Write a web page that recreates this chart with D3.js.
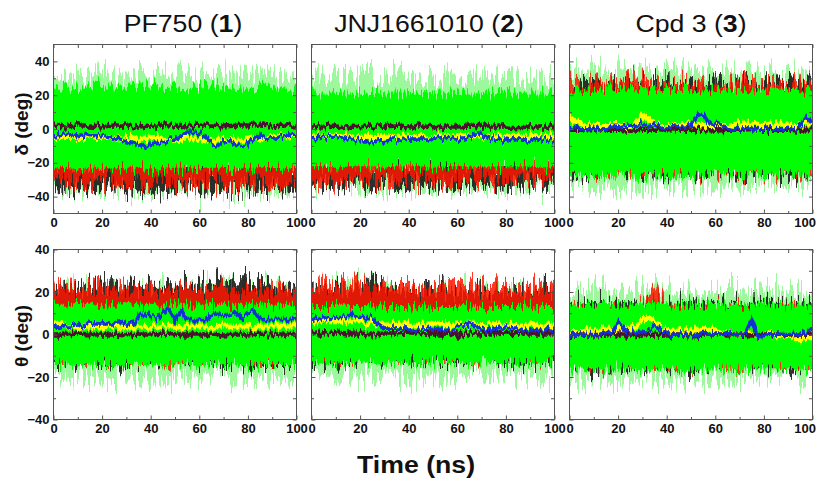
<!DOCTYPE html>
<html>
<head>
<meta charset="utf-8">
<script src="https://cdn.jsdelivr.net/npm/d3@7"></script>
<style>
body { margin: 0; background: #fff; }
svg { display: block; font-family: Arial, "Liberation Sans", sans-serif; }
</style>
</head>
<body>
<svg class="md-chart" width="819" height="478"></svg>
<script>
/* DATA */
// sample times (ns)
let bandTimes = [0,5,10,15,20,25,30,35,40,45,50,55,60,65,70,75,80,85,90,95,100];
let lineTimes = [0,2.5,5,7.5,10,12.5,15,17.5,20,22.5,25,27.5,30,32.5,35,37.5,40,42.5,45,47.5,50,
	52.5,55,57.5,60,62.5,65,67.5,70,72.5,75,77.5,80,82.5,85,87.5,90,92.5,95,97.5,100];
let xTicks = [0,20,40,60,80,100];
let xMinorTicks = [10,30,50,70,90];
let yTicks = [-40,-20,0,20,40];
let yMinorTicks = [-30,-10,10,30];
let compounds = ['PF750','JNJ1661010','Cpd 3'];
let compoundIds = ['1','2','3'];
let angleLabels = ['δ (deg)','θ (deg)'];
let rowDomains = [[-50,50],[-40,40]];

// panel order: δ PF750, δ JNJ1661010, δ Cpd 3, θ PF750, θ JNJ1661010, θ Cpd 3
// light green spike envelope
let haloHi = [
	[30,31,33,34,33,31,32,34,33,34,32,33,32,35,33,32,34,33,32,31,30],
	[29,31,30,31,32,31,30,32,31,30,31,32,31,30,31,30,31,30,31,30,29],
	[33,34,35,34,36,35,36,35,34,35,36,35,34,35,34,33,34,35,34,33,33],
	[20,21,22,21,22,21,22,21,22,21,22,21,22,23,24,23,24,23,22,22,21],
	[20,21,22,21,23,22,21,21,22,21,20,21,21,20,21,20,21,20,20,20,20],
	[19,20,21,20,21,20,21,22,21,20,21,20,20,21,21,20,21,21,20,20,19]
];
let haloLo = [
	[-34,-35,-36,-35,-37,-35,-36,-37,-38,-36,-35,-36,-37,-38,-36,-37,-38,-36,-37,-38,-36],
	[-33,-34,-35,-34,-36,-35,-36,-35,-34,-35,-34,-35,-36,-35,-34,-35,-36,-35,-36,-35,-34],
	[-33,-34,-35,-36,-35,-34,-35,-34,-33,-34,-33,-34,-33,-32,-33,-34,-33,-32,-33,-34,-33],
	[-19,-20,-21,-20,-21,-22,-21,-20,-21,-20,-21,-22,-21,-20,-21,-20,-21,-20,-21,-20,-19],
	[-18,-19,-20,-19,-20,-19,-20,-19,-21,-20,-19,-20,-19,-20,-19,-20,-19,-20,-19,-20,-19],
	[-20,-21,-20,-21,-22,-21,-20,-21,-22,-21,-22,-21,-20,-21,-20,-21,-20,-21,-20,-21,-20]
];
// bright green core
let greenHi = [
	[24,25,25,26,25,24,25,25,26,25,25,24,25,26,25,25,24,25,25,24,24],
	[21,21,22,21,21,22,21,21,21,22,21,21,22,21,21,21,22,21,21,21,21],
	[23,23,24,23,23,24,23,23,23,24,23,23,23,24,23,23,23,23,24,23,23],
	[14,14,15,14,14,14,15,14,14,14,15,14,14,15,14,14,14,15,14,14,14],
	[13,13,14,13,13,14,13,13,13,14,13,13,13,14,13,13,13,13,14,13,13],
	[14,14,14,15,14,14,14,15,14,14,14,14,15,14,14,14,15,14,14,14,14]
];
let greenLo = [
	[-23,-23,-24,-23,-23,-24,-23,-23,-24,-23,-23,-23,-24,-23,-23,-24,-23,-23,-23,-24,-23],
	[-22,-22,-23,-22,-22,-22,-23,-22,-22,-22,-23,-22,-22,-22,-23,-22,-22,-22,-22,-23,-22],
	[-27,-27,-28,-27,-27,-27,-28,-27,-27,-26,-27,-27,-26,-27,-27,-26,-27,-27,-26,-27,-27],
	[-14,-14,-15,-14,-14,-15,-14,-14,-14,-15,-14,-14,-15,-14,-14,-14,-15,-14,-14,-14,-14],
	[-13,-13,-14,-13,-13,-13,-14,-13,-13,-14,-13,-13,-13,-14,-13,-13,-13,-14,-13,-13,-13],
	[-16,-16,-17,-16,-16,-16,-17,-16,-16,-16,-17,-16,-16,-16,-17,-16,-16,-16,-16,-17,-16]
];
// red trajectory envelope
let redHi = [
	[-17,-17,-17,-17,-17,-17,-17,-17,-17,-17,-17,-17,-17,-17,-17,-17,-17,-17,-17,-17,-17],
	[-17,-17,-17,-17,-17,-17,-17,-17,-17,-17,-17,-17,-17,-17,-17,-17,-17,-17,-17,-17,-17],
	[26,27,26,27,27,30,31,27,26,26,27,26,27,26,27,26,27,26,26,27,26],
	[22,23,22,23,22,22,21,22,22,21,22,22,21,22,22,21,22,21,22,22,22],
	[23,24,23,24,24,23,23,22,23,22,23,22,23,22,22,22,23,22,22,22,22],
	[13,13,12,13,13,12,14,24,13,12,13,13,12,13,12,13,13,12,13,12,13]
];
let redLo = [
	[-33,-34,-33,-34,-33,-32,-33,-34,-33,-32,-33,-34,-33,-32,-33,-34,-33,-33,-32,-33,-32],
	[-31,-32,-31,-32,-31,-31,-32,-31,-31,-30,-31,-32,-31,-31,-30,-31,-32,-31,-31,-30,-31],
	[-24,-24,-25,-24,-24,-24,-25,-24,-24,-24,-25,-24,-24,-24,-25,-24,-24,-24,-25,-24,-24],
	[-11,-11,-12,-11,-11,-12,-11,-11,-11,-12,-11,-11,-12,-11,-11,-11,-12,-11,-11,-11,-11],
	[-10,-10,-11,-10,-10,-10,-11,-10,-10,-10,-11,-10,-10,-10,-11,-10,-10,-10,-10,-11,-10],
	[-13,-13,-14,-13,-13,-13,-14,-13,-13,-13,-14,-13,-13,-13,-14,-13,-13,-13,-14,-13,-13]
];
// black trajectory envelope
let blackHi = [
	[-19,-19,-19,-19,-19,-19,-19,-19,-19,-19,-19,-19,-19,-19,-19,-19,-19,-19,-19,-19,-19],
	[-19,-19,-19,-19,-19,-19,-19,-19,-19,-19,-19,-19,-19,-19,-19,-19,-19,-19,-19,-19,-19],
	[27,27,26,27,27,26,27,27,28,26,27,26,27,26,27,26,27,27,26,27,26],
	[23,23,22,23,22,23,23,22,23,23,24,23,24,25,26,26,26,26,24,23,23],
	[21,21,22,22,23,24,22,21,21,21,21,21,20,21,21,20,21,21,20,21,21],
	[14,14,15,14,14,15,14,15,14,14,15,14,14,15,14,14,15,15,14,14,15]
];
let blackLo = [
	[-35,-35,-36,-35,-35,-34,-36,-37,-38,-36,-35,-35,-36,-37,-35,-36,-37,-35,-35,-36,-35],
	[-33,-33,-34,-33,-33,-34,-33,-33,-34,-33,-33,-33,-34,-33,-33,-33,-35,-33,-33,-33,-33],
	[-25,-25,-26,-25,-25,-25,-26,-25,-25,-25,-26,-25,-25,-25,-26,-25,-25,-25,-26,-25,-25],
	[-12,-12,-13,-12,-12,-13,-12,-12,-12,-13,-12,-12,-13,-12,-12,-12,-13,-12,-12,-12,-12],
	[-11,-11,-12,-11,-11,-11,-12,-11,-11,-12,-11,-11,-11,-12,-11,-11,-11,-12,-11,-11,-11],
	[-14,-14,-15,-14,-14,-14,-15,-14,-14,-14,-15,-14,-14,-14,-15,-14,-14,-14,-15,-14,-14]
];
// dark (maroon) trajectory, on bandTimes
let maroonLine = [
	[2,1.5,2,2,1.5,2,2,1.5,2,2,2,1.5,2,2,1.5,2,2,2,1.5,2,2],
	[1.5,1.5,2,1.5,1,1.5,1.5,2,1.5,1.5,1,1.5,1.5,2,1.5,1.5,1.5,1,1.5,1.5,1.5],
	[-0.5,-0.5,0,-0.5,-0.5,-1,-0.5,-0.5,0,-0.5,-0.5,-0.5,-1,-0.5,-0.5,0,-0.5,-0.5,-0.5,-1,-0.5],
	[0,0,0.5,0,0,0,-0.5,0,0,0.5,0,0,0,0,-0.5,0,0,0.5,0,0,0],
	[0.5,0.5,1,0.5,0.5,0,0.5,0.5,1,0.5,0.5,0.5,0,0.5,0.5,0.5,1,0.5,0.5,0.5,0.5],
	[0,0,-0.5,0,0,0,-0.5,0,0,0,-0.5,0,0,0,0,-0.5,0,0,-0.5,0,0]
];
// yellow trajectory, on lineTimes
let yellowLine = [
	[-5,-5,-5,-5, -5,-5,-4,-5, -5,-5,-5,-6, -5,-5,-6,-6, -5,-5,-6,-6, -6,-6,-5,-6, -6,-7,-6,-6, -6,-7,-6,-6, -6,-5,-6,-5, -5,-4,-4,-4, -4],
	[-4,-4,-5,-4, -4,-5,-4,-5, -5,-4,-5,-5, -4,-5,-5,-4, -5,-5,-4,-5, -5,-4,-4,-5, -4,-4,-5,-4, -4,-5,-4,-4, -5,-4,-4,-5, -4,-4,-5,-4, -4],
	[7,4,3,2, 2,2,2,2, 2,2,2,4, 8,6,3,2, 2,2,2,3, 2,2,2,2, 2,2,2,3, 3,3,3,3, 2,3,3,3, 3,2,2,3, 3],
	[5,5,4,4, 3,4,3,4, 3,4,4,3, 4,3,4,4, 3,4,4,4, 4,3,4,4, 4,4,3,4, 4,4,4,4, 4,3,4,4, 4,4,4,4, 4],
	[7,6,7,6, 6,6,6,6, 6,5,6,5, 5,5,5,5, 5,5,5,5, 5,5,4,5, 5,4,5,5, 4,5,4,5, 4,5,4,4, 5,4,4,4, 4],
	[1,1,1,2, 1,2,3,3, 2,2,3,4, 7,8,6,3, 2,2,2,1, 2,2,2,3, 2,1,1,0, 0,1,0,-1, 0,1,-1,-1, -1,-2,-2,-2, -2]
];
// blue trajectory, on lineTimes
let blueLine = [
	[-4,-4,-3,-4, -4,-3,-4,-4, -4,-5,-5,-6, -7,-8,-9,-11, -9,-8,-8,-6, -6,-4,-2,-2, -3,-4,-8,-10, -7,-7,-9,-10, -9,-6,-3,-5, -6,-5,-4,-3, -4],
	[-5,-5,-5,-4, -5,-6,-5,-6, -7,-7,-8,-7, -7,-6,-6,-7, -6,-6,-6,-6, -5,-6,-5,-5, -6,-6,-5,-3, -3,-5,-6,-6, -6,-7,-6,-6, -7,-6,-6,-7, -6],
	[0,1,0,0, 1,0,0,1, 1,2,3,2, 3,2,3,1, 1,2,1,1, 2,8,9,3, 3,2,1,0, 0,1,0,0, 0,1,0,0, 1,0,2,7, 3],
	[3,3,4,4, 5,4,5,5, 5,5,5,6, 5,5,9,9, 9,8,10,12, 7,11,7,7, 7,7,9,10, 9,9,10,8, 10,11,7,7, 7,7,7,7, 7],
	[8,7,8,7, 8,8,9,9, 8,8,8,5, 3,3,3,3, 3,2,3,3, 2,2,2,2, 3,4,5,4, 3,2,2,3, 4,3,3,2, 2,2,2,2, 2],
	[1,0,0,0, 0,0,1,1, 6,2,1,1, 1,2,4,2, 1,0,0,0, 0,0,1,0, 0,0,1,0, 0,1,7,-1, -1,0,0,0, 0,0,0,1, 3]
];

/* LAYOUT */
let svg = d3.select('.md-chart');
let panelLeft = [53.5, 311.5, 569.5];
let panelWidth = 243;
let rowRange = [[213.5, 44.5], [419.5, 249.5]];
let titleX = [183, 429, 691];
let labelY = [124, 336];

/* NOISE FILTERS -- texture for dense MD trajectories */
let defs = svg.append('defs');

function addNoise(id, seed, scale, freq) {
	let f = defs.append('filter').attr('id', id)
		.attr('filterUnits', 'userSpaceOnUse')
		.attr('x', 0).attr('y', 0).attr('width', 819).attr('height', 478)
		.attr('color-interpolation-filters', 'sRGB');
	f.append('feTurbulence').attr('type', 'fractalNoise').attr('baseFrequency', freq)
		.attr('numOctaves', 2).attr('seed', seed).attr('result', 'n');
	f.append('feColorMatrix').attr('in', 'n').attr('type', 'matrix')
		.attr('values', '0 0 0 0 0.5  1 0 0 0 0  0 0 0 0 0  0 0 0 0 1').attr('result', 'm');
	f.append('feDisplacementMap').attr('in', 'SourceGraphic').attr('in2', 'm')
		.attr('scale', scale).attr('xChannelSelector', 'R').attr('yChannelSelector', 'G');
}
addNoise('nHalo', 7, 60, '0.45 0.02');
addNoise('nBlack', 5, 50, '0.45 0.02');
addNoise('nRed', 3, 50, '0.45 0.02');
addNoise('nCore', 11, 26, '0.5 0.03');
addNoise('nLine', 13, 12, '0.4 0.06');

/* PANELS */
function drawPanel(row, col) {
	let p = row * 3 + col;
	let x = d3.scaleLinear().domain([0, 100]).range([panelLeft[col], panelLeft[col] + panelWidth]);
	let y = d3.scaleLinear().domain(rowDomains[row]).range(rowRange[row]);
	let top = rowRange[row][1], bottom = rowRange[row][0];

	let clipId = 'clip' + p;
	defs.append('clipPath').attr('id', clipId).append('rect')
		.attr('x', x(0)).attr('y', top).attr('width', panelWidth).attr('height', bottom - top);

	let g = svg.append('g').attr('clip-path', 'url(#' + clipId + ')');

	function band(lo, hi, times) {
		return d3.area()
			.x(function(d, i) { return x(times[i]); })
			.y0(function(d, i) { return y(lo[i]); })
			.y1(function(d, i) { return y(hi[i]); })(lo);
	}
	function line(vals, times) {
		return d3.line()
			.x(function(d, i) { return x(times[i]); })
			.y(function(d) { return y(d); })(vals);
	}

	g.append('path').attr('d', band(haloLo[p], haloHi[p], bandTimes))
		.attr('fill', '#3cf03c').attr('fill-opacity', 0.5).attr('filter', 'url(#nHalo)');
	g.append('path').attr('d', band(blackLo[p], blackHi[p], bandTimes))
		.attr('fill', '#1a1a1a').attr('fill-opacity', 0.9).attr('filter', 'url(#nBlack)');
	g.append('path').attr('d', band(redLo[p], redHi[p], bandTimes))
		.attr('fill', '#ff1500').attr('fill-opacity', 0.85).attr('filter', 'url(#nRed)');
	g.append('path').attr('d', band(greenLo[p], greenHi[p], bandTimes))
		.attr('fill', '#00ff00').attr('filter', 'url(#nCore)');

	g.append('path').attr('d', line(yellowLine[p], lineTimes))
		.attr('fill', 'none').attr('stroke', '#ffff00').attr('stroke-width', 5).attr('filter', 'url(#nLine)');
	g.append('path').attr('d', line(maroonLine[p], bandTimes))
		.attr('fill', 'none').attr('stroke', '#4e1030').attr('stroke-width', 4.5).attr('filter', 'url(#nLine)');
	g.append('path').attr('d', line(blueLine[p], lineTimes))
		.attr('fill', 'none').attr('stroke', '#1430d8').attr('stroke-width', 3.6).attr('filter', 'url(#nLine)');

	// frame
	svg.append('rect').attr('x', x(0)).attr('y', top).attr('width', panelWidth).attr('height', bottom - top)
		.attr('fill', 'none').attr('stroke', '#555').attr('stroke-width', 1);

	// ticks, all pointing inward
	let axes = svg.append('g').attr('class', 'axes');
	function tidy(sel) {
		sel.select('.domain').remove();
		sel.selectAll('line').attr('stroke', '#555');
		sel.selectAll('text').style('font-size', '13px').style('font-weight', 'bold').attr('fill', '#111');
	}
	let xAxis = axes.append('g').attr('transform', 'translate(0,' + bottom + ')')
		.call(d3.axisBottom(x).tickValues(xTicks).tickSizeInner(-4).tickSizeOuter(0).tickPadding(4).tickFormat(d3.format('d')))
		.call(tidy);
	if (col === 2) {
		// last label is kept inside the picture
		xAxis.selectAll('.tick').filter(function(d) { return d === 100; })
			.select('text').attr('text-anchor', 'end').attr('dx', 3);
	}
	axes.append('g').attr('transform', 'translate(0,' + bottom + ')')
		.call(d3.axisBottom(x).tickValues(xMinorTicks).tickSizeInner(-2.5).tickSizeOuter(0).tickFormat(''))
		.call(tidy);
	axes.append('g').attr('transform', 'translate(0,' + top + ')')
		.call(d3.axisTop(x).tickValues(xTicks.concat(xMinorTicks)).tickSizeInner(-3.5).tickSizeOuter(0).tickFormat(''))
		.call(tidy);
	axes.append('g').attr('transform', 'translate(' + x(0) + ',0)')
		.call(d3.axisLeft(y).tickValues(yTicks).tickSizeInner(-4).tickSizeOuter(0).tickPadding(4)
			.tickFormat(col === 0 ? d3.format('d') : ''))
		.call(tidy);
	axes.append('g').attr('transform', 'translate(' + x(0) + ',0)')
		.call(d3.axisLeft(y).tickValues(yMinorTicks).tickSizeInner(-2.5).tickSizeOuter(0).tickFormat(''))
		.call(tidy);
	axes.append('g').attr('transform', 'translate(' + x(100) + ',0)')
		.call(d3.axisRight(y).tickValues(yTicks.concat(yMinorTicks)).tickSizeInner(-3.5).tickSizeOuter(0).tickFormat(''))
		.call(tidy);
}

for (let r = 0; r < 2; r++) {
	for (let c = 0; c < 3; c++) {
		drawPanel(r, c);
	}
}

/* TEXT */
compounds.forEach(function(name, i) {
	let t = svg.append('text')
		.attr('transform', 'translate(' + titleX[i] + ',32) scale(1.16,1)')
		.attr('text-anchor', 'middle')
		.style('font-size', '23px')
		.attr('fill', '#111');
	t.append('tspan').text(name + ' (');
	t.append('tspan').style('font-weight', 'bold').text(compoundIds[i]);
	t.append('tspan').text(')');
});

angleLabels.forEach(function(label, i) {
	svg.append('text')
		.attr('transform', 'translate(28,' + labelY[i] + ') rotate(-90)')
		.attr('text-anchor', 'middle')
		.style('font-size', '19px').style('font-weight', 'bold')
		.attr('fill', '#111')
		.text(label);
});

svg.append('text')
	.attr('transform', 'translate(416,473) scale(1.16,1)')
	.attr('text-anchor', 'middle')
	.style('font-size', '23px').style('font-weight', 'bold')
	.attr('fill', '#111')
	.text('Time (ns)');
</script>
</body>
</html>
